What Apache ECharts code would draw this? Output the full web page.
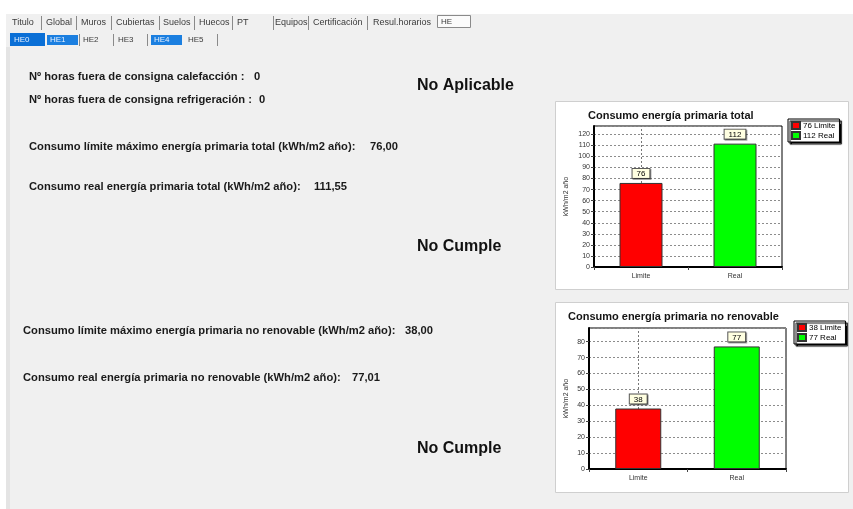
<!DOCTYPE html>
<html><head><meta charset="utf-8">
<script src="https://cdn.jsdelivr.net/npm/echarts@6/dist/echarts.min.js"></script>
<style>html,body{margin:0;padding:0;background:#f0f0f0}#c{width:853px;height:509px}</style>
</head><body><div id="c"></div>
<script>
// ---------- data ----------
const categories = ['Limite', 'Real'];
const totalValues = [76.00, 111.55];
const noRenValues = [38.00, 77.01];
const horasValues = [0, 0];
const chartTitles = ['Consumo energía primaria total', 'Consumo energía primaria no renovable'];
const yAxisName = 'kWh/m2 año';
const tabsRow1 = ['Titulo', 'Global', 'Muros', 'Cubiertas', 'Suelos', 'Huecos', 'PT', 'Equipos', 'Certificación', 'Resul.horarios'];
const tabActive1 = 'HE';
const tabsRow2 = ['HE0', 'HE1', 'HE2', 'HE3', 'HE4', 'HE5'];
const infoLabels = [
  'Nº horas fuera de consigna calefacción :',
  'Nº horas fuera de consigna refrigeración :',
  'Consumo límite máximo energía primaria total (kWh/m2 año):',
  'Consumo real energía primaria total (kWh/m2 año):',
  'Consumo límite máximo energía primaria no renovable (kWh/m2 año):',
  'Consumo real energía primaria no renovable (kWh/m2 año):'
];
const statusTexts = ['No Aplicable', 'No Cumple', 'No Cumple'];

// ---------- layout (positions only) ----------
const tabsRow1X = [12, 46, 81, 116, 163, 199, 237, 275, 313, 373];
const sepRow1X = [41, 76, 111, 159, 194, 232, 273, 308, 367];
const tabsRow2X = [14, 50, 83, 118, 154, 188];
const sepRow2X = [79, 113, 147, 217];
const infoPos = [[29, 77, 254], [29, 100, 259], [29, 147, 370], [29, 187, 314], [23, 331, 405], [23, 378, 352]];
const statusPos = [[417, 86], [417, 247], [417, 449]];

const fmt = v => v.toFixed(2).replace('.', ',');
const infoValues = [String(horasValues[0]), String(horasValues[1]), fmt(totalValues[0]), fmt(totalValues[1]), fmt(noRenValues[0]), fmt(noRenValues[1])];

const FONT = '"Liberation Sans", Arial, sans-serif';
const graphics = [];
// backgrounds
graphics.push({type:'rect', shape:{x:0,y:0,width:853,height:14}, style:{fill:'#ffffff'}, z:-20});
graphics.push({type:'rect', shape:{x:0,y:0,width:6,height:509}, style:{fill:'#ffffff'}, z:-20});
graphics.push({type:'rect', shape:{x:6,y:47,width:4,height:462}, style:{fill:'#e4e4e4'}, z:-19});
// chart boxes
graphics.push({type:'rect', shape:{x:555.5,y:101.5,width:293,height:188}, style:{fill:'#ffffff', stroke:'#cfcfcf', lineWidth:1}, z:-10});
graphics.push({type:'rect', shape:{x:555.5,y:302.5,width:293,height:190}, style:{fill:'#ffffff', stroke:'#cfcfcf', lineWidth:1}, z:-10});
// tabs row 1
tabsRow1.forEach((t, i) => graphics.push({type:'text', x:tabsRow1X[i], y:23, style:{text:t, font:'9px ' + FONT, fill:'#3a3a3a', textVerticalAlign:'middle'}}));
sepRow1X.forEach(x => graphics.push({type:'line', shape:{x1:x+0.5,y1:16,x2:x+0.5,y2:30}, style:{stroke:'#8a8a8a', lineWidth:1}}));
graphics.push({type:'rect', shape:{x:437.5,y:15.5,width:33,height:12}, style:{fill:'#fbfbfb', stroke:'#8a8a8a', lineWidth:1}});
graphics.push({type:'text', x:441, y:21.5, style:{text:tabActive1, font:'8px ' + FONT, fill:'#3a3a3a', textVerticalAlign:'middle'}});
// tabs row 2
graphics.push({type:'rect', shape:{x:10,y:33,width:35,height:13}, style:{fill:'#0a6fd6'}});
graphics.push({type:'rect', shape:{x:47,y:35,width:31,height:10}, style:{fill:'#1b7fe0'}});
graphics.push({type:'rect', shape:{x:151,y:35,width:31,height:10}, style:{fill:'#1b7fe0'}});
tabsRow2.forEach((t, i) => {
  const hi = (i === 0 || i === 1 || i === 4);
  graphics.push({type:'text', x:tabsRow2X[i], y:39.5, style:{text:t, font:'8px ' + FONT, fill: hi ? '#e6f0ff' : '#3a3a3a', textVerticalAlign:'middle'}});
});
sepRow2X.forEach(x => graphics.push({type:'line', shape:{x1:x+0.5,y1:34,x2:x+0.5,y2:46}, style:{stroke:'#8a8a8a', lineWidth:1}}));
// info texts
infoLabels.forEach((t, i) => {
  const p = infoPos[i];
  graphics.push({type:'text', x:p[0], y:p[1], style:{text:t, font:'bold 11.2px ' + FONT, fill:'#1a1a1a', textVerticalAlign:'middle'}});
  graphics.push({type:'text', x:p[2], y:p[1], style:{text:infoValues[i], font:'bold 11.2px ' + FONT, fill:'#1a1a1a', textVerticalAlign:'middle'}});
});
statusTexts.forEach((t, i) => graphics.push({type:'text', x:statusPos[i][0], y:statusPos[i][1], style:{text:t, font:'bold 16px ' + FONT, fill:'#111', textVerticalAlign:'middle'}}));

function barSeries(idx, vals, barW) {
  const names = [Math.round(vals[0]) + ' ' + categories[0], Math.round(vals[1]) + ' ' + categories[1]];
  const label = {show:true, position:'top', distance:5, formatter: p => String(Math.round(p.value)),
    fontSize:8, fontFamily:FONT, color:'#000', backgroundColor:'#ffffe1', borderColor:'#555', borderWidth:1,
    padding:[1,4,0,4], shadowColor:'rgba(0,0,0,0.35)', shadowOffsetX:1, shadowOffsetY:1};
  return [
    {name:names[0], type:'bar', xAxisIndex:idx, yAxisIndex:idx, data:[vals[0], '-'], barWidth:barW, barGap:'-100%',
     itemStyle:{color:'#ff0000', borderColor:'#333', borderWidth:1}, label:label,
     markLine:{silent:true, z:1, symbol:'none', label:{show:false}, lineStyle:{type:[2,2], color:'#777', width:1}, data:[{xAxis:categories[0]}]}},
    {name:names[1], type:'bar', xAxisIndex:idx, yAxisIndex:idx, data:['-', vals[1]], barWidth:barW, barGap:'-100%',
     itemStyle:{color:'#00ff00', borderColor:'#333', borderWidth:1}, label:label}
  ];
}
const s1 = barSeries(0, totalValues, 43);
const s2 = barSeries(1, noRenValues, 46);

function legend(left, top, names) {
  return {orient:'vertical', left:left, top:top, data:names, padding:[2,4,2,3], itemWidth:8, itemHeight:7, itemGap:1,
    icon:'rect', backgroundColor:'#fff', borderColor:'#000', borderWidth:1,
    shadowColor:'#000', shadowOffsetX:2, shadowOffsetY:2, shadowBlur:1,
    textStyle:{fontSize:8, fontFamily:FONT, color:'#000', padding:[0,0,0,-2]}};
}
function xAx(idx) {
  return {gridIndex:idx, type:'category', data:categories,
    axisLine:{lineStyle:{color:'#000', width:2}}, axisTick:{show:true, length:3, lineStyle:{color:'#444'}},
    axisLabel:{fontSize:7, fontFamily:FONT, color:'#333', margin:6}, splitLine:{show:false}};
}
function yAx(idx, max, gap) {
  return {gridIndex:idx, type:'value', min:0, max:max, interval:10, name:yAxisName, nameLocation:'middle', nameRotate:90, nameGap:gap,
    nameTextStyle:{fontSize:7, fontFamily:FONT, color:'#333'},
    axisLine:{show:true, lineStyle:{color:'#000', width:2}}, axisTick:{show:true, length:3, lineStyle:{color:'#444'}},
    axisLabel:{fontSize:7, fontFamily:FONT, color:'#333', margin:4, showMaxLabel:false},
    splitLine:{show:true, lineStyle:{type:[2,2], color:'#8c8c8c', width:1}}};
}

const chart = echarts.init(document.getElementById('c'), null, {renderer:'canvas'});
chart.setOption({
  animation:false,
  backgroundColor:'#f0f0f0',
  title:[
    {text:chartTitles[0], left:588, top:110, padding:0, textStyle:{fontSize:11, fontWeight:'bold', fontFamily:FONT, color:'#151515'}},
    {text:chartTitles[1], left:568, top:311, padding:0, textStyle:{fontSize:11, fontWeight:'bold', fontFamily:FONT, color:'#151515'}}
  ],
  legend:[legend(788, 119, s1.map(s => s.name)), legend(794, 321, s2.map(s => s.name))],
  grid:[
    {left:594, top:126, width:188, height:141, show:true, backgroundColor:'#fff', borderColor:'#000', borderWidth:1},
    {left:589, top:328, width:197, height:141, show:true, backgroundColor:'#fff', borderColor:'#000', borderWidth:1}
  ],
  xAxis:[xAx(0), xAx(1)],
  yAxis:[yAx(0, 127.5, 24), yAx(1, 88.6, 19)],
  series:[...s1, ...s2],
  graphic:{elements:graphics}
});
</script></body></html>
